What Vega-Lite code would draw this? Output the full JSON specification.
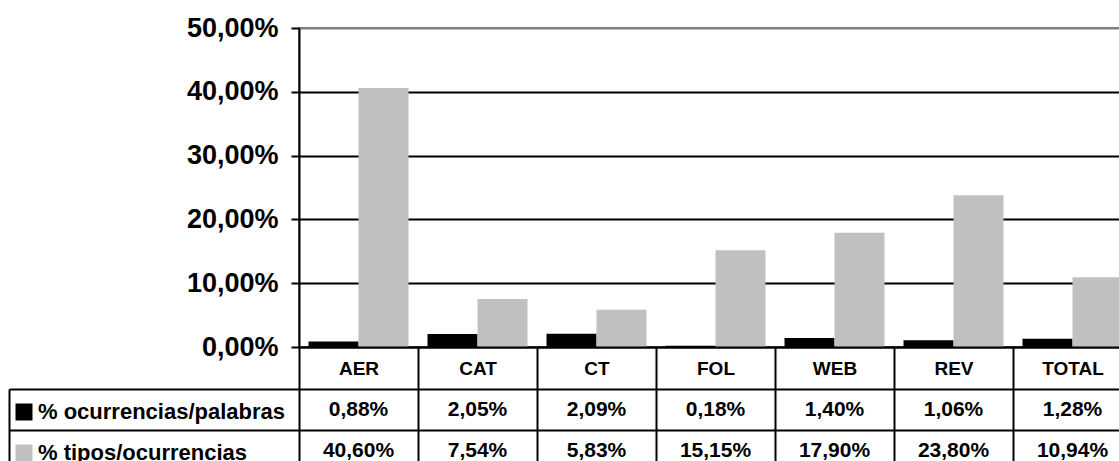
{
  "$schema": "https://vega.github.io/schema/vega-lite/v6.json",
  "padding": {"left": 8, "top": 13, "right": 0, "bottom": 0},
  "background": "white",
  "config": {
    "locale": {"number": {"decimal": ",", "thousands": ".", "grouping": [3], "currency": ["", " €"]}},
    "font": "Liberation Sans",
    "view": {"stroke": null}
  },
  "datasets": {
    "tabla": [
      {"categoria": "AER", "serie": "% ocurrencias/palabras", "valor": 0.0088},
      {"categoria": "CAT", "serie": "% ocurrencias/palabras", "valor": 0.0205},
      {"categoria": "CT", "serie": "% ocurrencias/palabras", "valor": 0.0209},
      {"categoria": "FOL", "serie": "% ocurrencias/palabras", "valor": 0.0018},
      {"categoria": "WEB", "serie": "% ocurrencias/palabras", "valor": 0.0140},
      {"categoria": "REV", "serie": "% ocurrencias/palabras", "valor": 0.0106},
      {"categoria": "TOTAL", "serie": "% ocurrencias/palabras", "valor": 0.0128},
      {"categoria": "AER", "serie": "% tipos/ocurrencias", "valor": 0.4060},
      {"categoria": "CAT", "serie": "% tipos/ocurrencias", "valor": 0.0754},
      {"categoria": "CT", "serie": "% tipos/ocurrencias", "valor": 0.0583},
      {"categoria": "FOL", "serie": "% tipos/ocurrencias", "valor": 0.1515},
      {"categoria": "WEB", "serie": "% tipos/ocurrencias", "valor": 0.1790},
      {"categoria": "REV", "serie": "% tipos/ocurrencias", "valor": 0.2380},
      {"categoria": "TOTAL", "serie": "% tipos/ocurrencias", "valor": 0.1094}
    ]
  },
  "spacing": 42,
  "bounds": "flush",
  "resolve": {"legend": {"color": "independent"}, "scale": {"x": "independent"}},
  "vconcat": [
    {
      "width": 833,
      "height": 319,
      "data": {"name": "tabla"},
      "view": {"stroke": "#808080", "strokeWidth": 2},
      "mark": {"type": "bar"},
      "encoding": {
        "x": {
          "field": "categoria", "type": "nominal",
          "sort": ["AER", "CAT", "CT", "FOL", "WEB", "REV", "TOTAL"],
          "scale": {"paddingInner": 0, "paddingOuter": 0},
          "axis": {
            "title": null, "orient": "bottom", "zindex": 1,
            "domainColor": "black", "domainWidth": 2,
            "tickBand": "extent", "tickSize": 42, "tickColor": "black", "tickWidth": 2,
            "labelFont": "Liberation Sans", "labelFontWeight": "bold", "labelFontSize": 19,
            "labelColor": "black", "labelAngle": 0, "labelBaseline": "middle", "labelPadding": -21
          }
        },
        "xOffset": {
          "field": "serie", "type": "nominal",
          "sort": ["% ocurrencias/palabras", "% tipos/ocurrencias"],
          "scale": {"paddingInner": 0, "paddingOuter": 0.19}
        },
        "y": {
          "field": "valor", "type": "quantitative",
          "scale": {"domain": [0, 0.5], "nice": false},
          "axis": {
            "title": null, "values": [0, 0.1, 0.2, 0.3, 0.4, 0.5], "format": ".2%",
            "labelFont": "Liberation Sans", "labelFontWeight": "bold", "labelFontSize": 27,
            "labelColor": "black", "labelPadding": 13,
            "tickSize": 8, "tickColor": "black", "tickWidth": 2,
            "domainColor": "black", "domainWidth": 2,
            "grid": true, "gridWidth": 2,
            "gridColor": {"condition": {"test": "datum.value >= 0.5", "value": "#808080"}, "value": "black"}
          }
        },
        "color": {
          "field": "serie", "type": "nominal",
          "sort": ["% ocurrencias/palabras", "% tipos/ocurrencias"],
          "scale": {"range": ["#000000", "#c0c0c0"]},
          "legend": {
            "title": null, "orient": "none", "legendX": -286, "legendY": 373,
            "symbolType": "square", "symbolSize": 289, "symbolStrokeWidth": 0,
            "labelFont": "Liberation Sans", "labelFontWeight": "bold", "labelFontSize": 22,
            "labelColor": "black", "labelOffset": 3, "rowPadding": 19, "padding": 0, "labelLimit": 400
          }
        }
      }
    },
    {
      "width": 833,
      "height": 82,
      "data": {"name": "tabla"},
      "view": {"stroke": null},
      "mark": {"type": "text", "font": "Liberation Sans", "fontWeight": "bold", "fontSize": 21, "baseline": "middle", "align": "center", "color": "black"},
      "encoding": {
        "x": {
          "field": "categoria", "type": "nominal",
          "sort": ["AER", "CAT", "CT", "FOL", "WEB", "REV", "TOTAL"],
          "scale": {"paddingInner": 0, "paddingOuter": 0},
          "axis": {
            "title": null, "orient": "top", "labels": false, "ticks": false, "domain": false,
            "grid": true, "tickBand": "extent", "gridColor": "black", "gridWidth": 2
          }
        },
        "y": {
          "field": "serie", "type": "nominal",
          "sort": ["% ocurrencias/palabras", "% tipos/ocurrencias"],
          "scale": {"paddingInner": 0, "paddingOuter": 0},
          "axis": {
            "title": null, "labels": false, "offset": 290,
            "domainColor": "black", "domainWidth": 2,
            "tickBand": "extent", "tickSize": -290, "tickColor": "black", "tickWidth": 2,
            "grid": true, "gridColor": "black", "gridWidth": 2
          }
        },
        "text": {"field": "valor", "type": "quantitative", "format": ".2%"}
      }
    }
  ]
}
